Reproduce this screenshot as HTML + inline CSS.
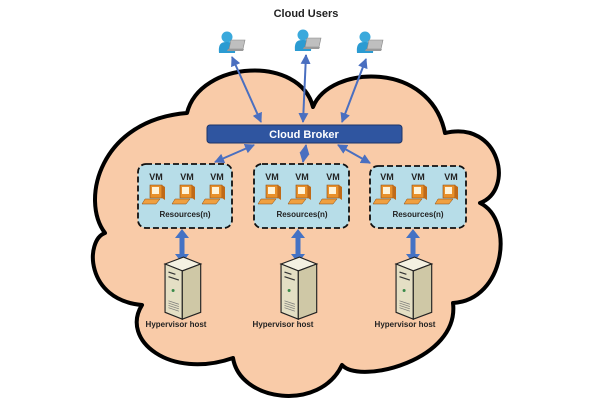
<!DOCTYPE html>
<html><head><meta charset="utf-8"><style>
html,body{margin:0;padding:0;background:#fff;}
svg{display:block;font-family:"Liberation Sans",sans-serif;}
</style></head><body>
<svg width="600" height="400" viewBox="0 0 600 400">
<defs>
<marker id="ah" viewBox="0 0 10 10" refX="9" refY="5" markerWidth="5" markerHeight="5" orient="auto-start-reverse"><path d="M0,0 L10,5 L0,10 z" fill="#4a6fc0"/></marker>
<g id="user">
<circle cx="0" cy="-6" r="5.5" fill="#3aa9dc"/>
<path d="M-8,10 C-9,0 -5,-1 0,-1 C5,-1 9,0 8,10 Z" fill="#2b9bd2"/>
<path d="M4,-3 L18,-3 L16,6 L2,6 Z" fill="#bfbfbf" stroke="#888" stroke-width="0.6"/>
<path d="M1,6 L17,6 L16,8 L0,8 Z" fill="#999"/>
</g>
<g id="pc">
<path d="M-6,-10 L6,-10 L6,3 L-6,3 Z" fill="#e8902a" stroke="#8a4a10" stroke-width="0.6"/>
<rect x="-4" y="-8" width="7" height="7" fill="#fff3d8"/>
<path d="M-11,4 L4,4 L0,9 L-14,9 Z" fill="#f0a040" stroke="#8a4a10" stroke-width="0.5"/>
<path d="M6,-10 L9,-8 L9,5 L6,3 Z" fill="#c06a18"/>
</g>
<g id="srv">
<path d="M-13,-20 L3,-26 L18,-20 L2,-14 Z" fill="#f4f1e2" stroke="#222" stroke-width="1"/>
<path d="M-13,-20 L2,-14 L2,28 L-13,22 Z" fill="#e4dfc4" stroke="#222" stroke-width="1"/>
<path d="M2,-14 L18,-20 L18,22 L2,28 Z" fill="#cfc8a6" stroke="#222" stroke-width="1"/>
<line x1="-10" y1="-13" x2="-4" y2="-11" stroke="#333" stroke-width="1"/>
<line x1="-10" y1="-9" x2="-1" y2="-6" stroke="#333" stroke-width="1"/>
<circle cx="-6" cy="3" r="1.3" fill="#3a8a4a"/>
<g stroke="#777" stroke-width="0.6"><line x1="-10" y1="12" x2="-1" y2="15"/><line x1="-10" y1="14" x2="-1" y2="17"/><line x1="-10" y1="16" x2="-1" y2="19"/><line x1="-10" y1="18" x2="-1" y2="21"/></g>
</g>
<g id="dbl">
<rect x="-2.5" y="-10" width="5" height="20" fill="#4472c4"/>
<path d="M-7,-8 L0,-17 L7,-8 Z" fill="#4472c4"/>
<path d="M-7,8 L0,17 L7,8 Z" fill="#4472c4"/>
</g>
</defs>
<path d="M187 113 C200 60, 300 55, 313 107 C330 65, 430 60, 445 133 C500 120, 515 190, 480 203 C515 220, 505 300, 453 303 C460 360, 360 385, 342 365 C320 412, 240 402, 233 358 C170 380, 120 340, 142 305 C85 300, 85 240, 105 233 C80 200, 100 120, 187 113 Z" fill="#f9cba8" stroke="#000" stroke-width="4" stroke-linejoin="round"/>
<text x="306" y="17" text-anchor="middle" font-size="11" font-weight="bold" fill="#222">Cloud Users</text>
<use href="#user" x="227" y="43"/>
<use href="#user" x="303" y="41"/>
<use href="#user" x="365" y="43"/>
<g stroke="#4a6fc0" stroke-width="2" marker-start="url(#ah)" marker-end="url(#ah)">
<line x1="232" y1="57" x2="261" y2="122"/>
<line x1="306" y1="55" x2="303" y2="122"/>
<line x1="366" y1="59" x2="342" y2="122"/>
<line x1="254" y1="145" x2="215" y2="162"/>
<line x1="306" y1="145" x2="303" y2="162"/>
<line x1="338" y1="145" x2="370" y2="163"/>
</g>
<rect x="207" y="125" width="195" height="18" rx="3" fill="#2f55a0" stroke="#1c3468" stroke-width="1"/>
<text x="304" y="138" text-anchor="middle" font-size="11" font-weight="bold" fill="#fff">Cloud Broker</text>
<g fill="#b7dde8" stroke="#111" stroke-width="1.8" stroke-dasharray="6,3">
<rect x="138" y="164" width="94" height="64" rx="8"/>
<rect x="254" y="164" width="95" height="64" rx="8"/>
<rect x="370" y="166" width="96" height="62" rx="8"/>
</g>
<g font-size="9" font-weight="bold" fill="#222" text-anchor="middle">
<text x="156" y="180">VM</text><text x="187" y="180">VM</text><text x="217" y="180">VM</text>
<text x="272" y="180">VM</text><text x="302" y="180">VM</text><text x="333" y="180">VM</text>
<text x="387" y="180">VM</text><text x="418" y="180">VM</text><text x="451" y="180">VM</text>
</g>
<use href="#pc" x="156" y="195"/><use href="#pc" x="186" y="195"/><use href="#pc" x="216" y="195"/>
<use href="#pc" x="272" y="195"/><use href="#pc" x="302" y="195"/><use href="#pc" x="333" y="195"/>
<use href="#pc" x="387" y="195"/><use href="#pc" x="418" y="195"/><use href="#pc" x="449" y="195"/>
<g font-size="8" font-weight="bold" fill="#222" text-anchor="middle">
<text x="185" y="217">Resources(n)</text>
<text x="302" y="217">Resources(n)</text>
<text x="418" y="217">Resources(n)</text>
</g>
<use href="#dbl" x="182" y="246"/><use href="#dbl" x="298" y="246"/><use href="#dbl" x="413" y="246"/>
<g transform="translate(180,287) scale(1.15)"><use href="#srv"/></g>
<g transform="translate(296,287) scale(1.15)"><use href="#srv"/></g>
<g transform="translate(411,287) scale(1.15)"><use href="#srv"/></g>
<g font-size="8" font-weight="bold" fill="#222" text-anchor="middle">
<text x="176" y="327">Hypervisor host</text>
<text x="283" y="327">Hypervisor host</text>
<text x="405" y="327">Hypervisor host</text>
</g>
</svg>
</body></html>
